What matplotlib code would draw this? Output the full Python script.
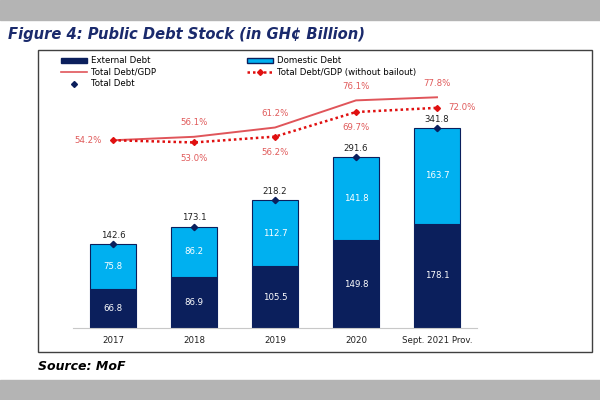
import numpy as np
import matplotlib
matplotlib.use("Agg")
from matplotlib import pyplot as plt
from matplotlib.patches import Rectangle
from matplotlib.lines import Line2D

# data
years = ["2017", "2018", "2019", "2020", "Sept. 2021 Prov."]
external = [66.8, 86.9, 105.5, 149.8, 178.1]
domestic = [75.8, 86.2, 112.7, 141.8, 163.7]
total = [142.6, 173.1, 218.2, 291.6, 341.8]
debt_gdp = [54.2, 56.1, 61.2, 76.1, 77.8]
debt_gdp_nobail = [54.2, 53.0, 56.2, 69.7, 72.0]

navy = "#0b1f5c"
lightblue = "#00b0f0"
red_solid = "#e0555a"
red_dot = "#e01010"
label_red = "#e05a5a"
fs = 6.2

W, H = 600, 400
fig = plt.figure(figsize=(6, 4), dpi=100)
fig.patch.set_facecolor("white")

# grey bands top and bottom
fig.patches.append(Rectangle((0, 1 - 20 / H), 1, 20 / H, transform=fig.transFigure,
                             color="#b4b4b4", zorder=0))
fig.patches.append(Rectangle((0, 0), 1, 20 / H, transform=fig.transFigure,
                             color="#b4b4b4", zorder=0))
# chart frame
fig.patches.append(Rectangle((38 / W, 1 - 352 / H), (592 - 38) / W, (352 - 50) / H,
                             transform=fig.transFigure, fill=False,
                             edgecolor="#404040", lw=1.0, zorder=1))

fig.text(8 / W, 1 - 34 / H, "Figure 4: Public Debt Stock (in GH¢ Billion)",
         fontsize=10.6, fontweight="bold", fontstyle="italic", color="#1a2a6c",
         va="center", ha="left")
fig.text(38 / W, 1 - 366 / H, "Source: MoF", fontsize=9, fontweight="bold",
         fontstyle="italic", color="black", va="center", ha="left")

# plot area: x 73..477 px, y 90..328 px
ax = fig.add_axes([73 / W, 1 - 328 / H, (477 - 73) / W, (328 - 90) / H])
ax.set_facecolor("none")
x = np.arange(len(years))
bw = 0.58
ax.bar(x, external, bw, color=navy, edgecolor=navy, lw=0.8, zorder=2)
ax.bar(x, domestic, bw, bottom=external, color=lightblue, edgecolor=navy, lw=0.8, zorder=2)
ax.plot(x, total, ls="none", marker="D", ms=3.2, color=navy, zorder=4)

for i in range(len(years)):
    ax.text(x[i], external[i] / 2, f"{external[i]:.1f}", color="white",
            ha="center", va="center", fontsize=fs)
    ax.text(x[i], external[i] + domestic[i] / 2, f"{domestic[i]:.1f}", color="white",
            ha="center", va="center", fontsize=fs)
    ax.text(x[i], total[i] + 7, f"{total[i]:.1f}", color="#202020",
            ha="center", va="bottom", fontsize=fs)

ax.set_xlim(-0.494, 4.494)
ax.set_ylim(0, 406)
ax.set_xticks(x)
ax.set_xticklabels(years, fontsize=fs, color="#202020")
ax.tick_params(axis="x", length=0, pad=6)
ax.set_yticks([])
for s in ["top", "right", "left"]:
    ax.spines[s].set_visible(False)
ax.spines["bottom"].set_color("#c8c8c8")

ax2 = ax.twinx()
ax2.set_ylim(-48.9, 81.8)
ax2.plot(x, debt_gdp, color=red_solid, lw=1.4, zorder=3)
ax2.plot(x, debt_gdp_nobail, color=red_dot, lw=1.8, ls=(0, (1, 1.2)),
         marker="D", ms=3, zorder=3)
ax2.set_yticks([])
for s in ["top", "right", "left", "bottom"]:
    ax2.spines[s].set_visible(False)

# percentage labels
solid_off = [None, (0, 7), (0, 7), (0, 7), (0, 7)]
dot_off = [None, (0, -8), (0, -8), (0, -8), (18, 0)]
ax2.annotate(f"{debt_gdp[0]:.1f}%", (x[0], debt_gdp[0]), xytext=(-18, 0),
             textcoords="offset points", color=label_red, fontsize=fs,
             ha="center", va="center")
for i in range(1, len(years)):
    ax2.annotate(f"{debt_gdp[i]:.1f}%", (x[i], debt_gdp[i]), xytext=solid_off[i],
                 textcoords="offset points", color=label_red, fontsize=fs,
                 ha="center", va="bottom")
    dx, dy = dot_off[i]
    ax2.annotate(f"{debt_gdp_nobail[i]:.1f}%", (x[i], debt_gdp_nobail[i]),
                 xytext=(dx, dy), textcoords="offset points", color=label_red,
                 fontsize=fs, ha="center", va="top" if dy < 0 else "center")

# legend in two columns
handles1 = [Rectangle((0, 0), 1, 1, facecolor=navy, edgecolor=navy),
            Line2D([], [], color=red_solid, lw=1.2),
            Line2D([], [], ls="none", marker="D", ms=3, color=navy)]
labels1 = ["External Debt", "Total Debt/GDP", "Total Debt"]
handles2 = [Rectangle((0, 0), 1, 1, facecolor=lightblue, edgecolor=navy),
            Line2D([], [], color=red_dot, lw=1.8, ls=(0, (1, 1.2)), marker="D", ms=3)]
labels2 = ["Domestic Debt", "Total Debt/GDP (without bailout)"]
leg_kw = dict(loc="upper left", frameon=False, fontsize=fs, handlelength=3.0,
              handleheight=0.6, labelspacing=0.3, borderpad=0, handletextpad=0.4)
fig.legend(handles1, labels1, bbox_to_anchor=(57 / W, 1 - 52 / H), **leg_kw)
fig.legend(handles2, labels2, bbox_to_anchor=(243 / W, 1 - 52 / H), **leg_kw)

fig.savefig("out.png", dpi=100)
